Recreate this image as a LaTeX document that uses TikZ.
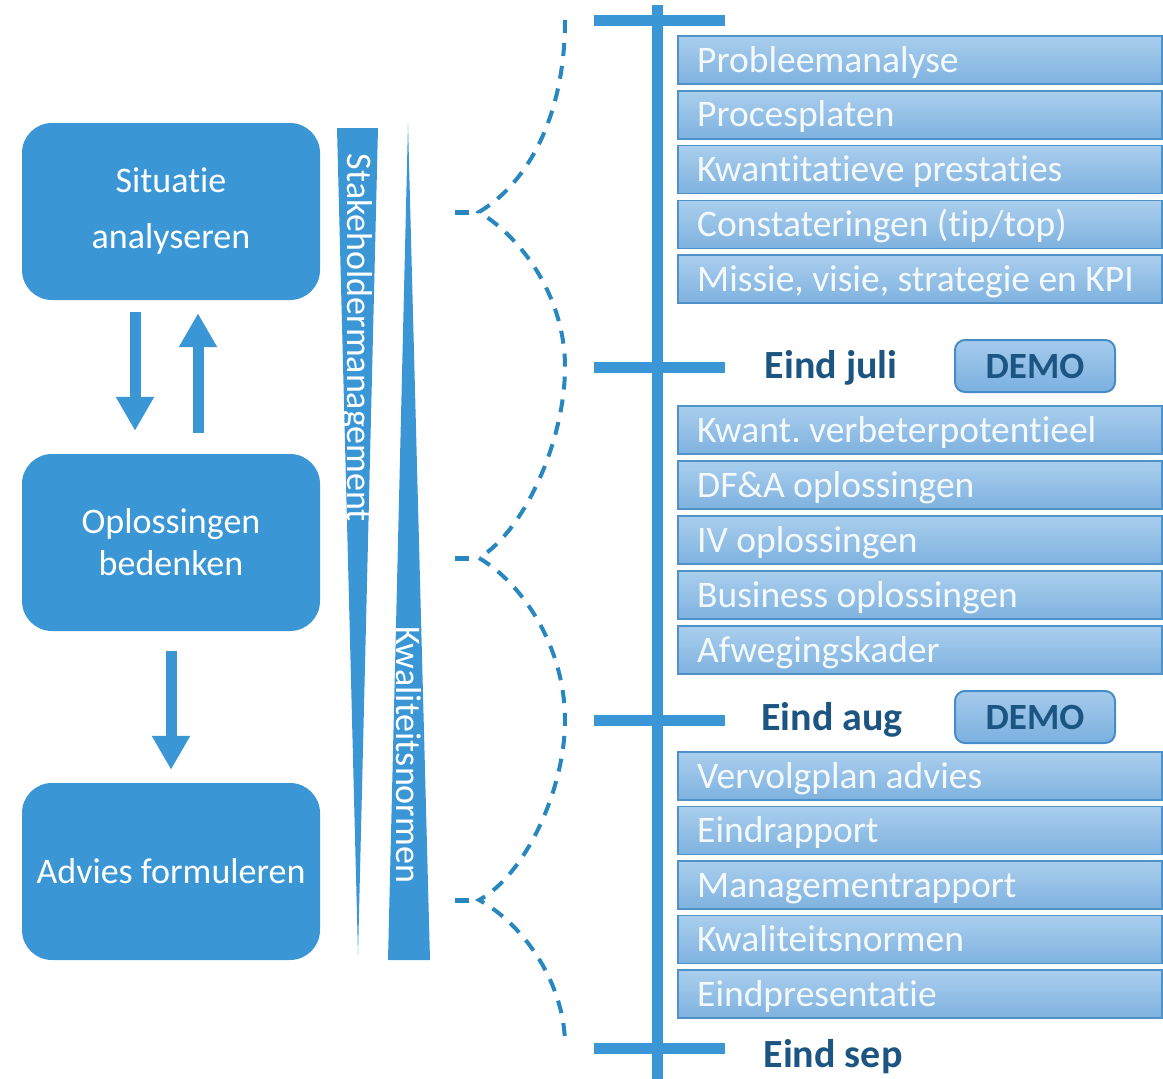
\documentclass[tikz,border=0pt]{standalone}
\usepackage{fontspec}
\setmainfont{Carlito}[Ligatures=NoCommon]
\usetikzlibrary{arrows.meta}

\definecolor{azul}{RGB}{58,150,212}
\definecolor{azulosc}{RGB}{40,135,190}
\definecolor{txtosc}{RGB}{28,84,130}
\definecolor{bartop}{RGB}{170,206,237}
\definecolor{barbot}{RGB}{126,178,223}
\definecolor{barborde}{RGB}{80,145,200}
\definecolor{bartxt}{RGB}{244,249,253}
\definecolor{demotop}{RGB}{165,203,236}
\definecolor{demobot}{RGB}{122,176,224}
\definecolor{demoborde}{RGB}{70,140,200}

\tikzset{
    caja/.style={rounded corners=30pt, fill=azul, text=white, minimum width=298pt,
        minimum height=177pt, align=center, font=\fontsize{36}{42}\selectfont},
    bloque/.style={azul, line width=11pt, -{Triangle[width=36pt,length=34pt]}},
    rotulo/.style={text=white, rotate=-90, font=\fontsize{36}{40}\selectfont},
    barra/.style={anchor=west, draw=barborde, line width=1.5pt, top color=bartop,
        bottom color=barbot, minimum width=484pt, minimum height=48pt},
    bartexto/.style={anchor=base west, inner sep=0pt, text=bartxt,
        font=\fontsize{37.5}{40}\selectfont},
    hito/.style={text=txtosc, font=\bfseries\fontsize{40}{44}\selectfont},
    demo/.style={rounded corners=10pt, draw=demoborde, line width=2pt, top color=demotop,
        bottom color=demobot, text=txtosc, minimum width=160pt, minimum height=52pt,
        font=\bfseries\fontsize{37}{40}\selectfont},
    eje/.style={azul, line width=11pt},
    llave/.style={azulosc, line width=4pt, dash pattern=on 13pt off 10pt},
}

\begin{document}
\frenchspacing
\begin{tikzpicture}[x=1pt, y=-1pt]
        \useasboundingbox (0,0) rectangle (1163,1079);

        % Definir las cajas del proceso
        \node[caja] (sit) at (171,211.5) {Situatie\\[14pt]analyseren};
        \node[caja] (opl) at (171,542.5) {Oplossingen\\bedenken};
        \node[caja] (adv) at (171,871.5) {Advies formuleren};

        % Flechas entre las cajas
        \draw[bloque, shorten <=12pt, shorten >=23pt] ([xshift=-36pt]sit.south) -- ([xshift=-36pt]opl.north);
        \draw[bloque, shorten <=21pt, shorten >=13pt] ([xshift=27pt]opl.north) -- ([xshift=27pt]sit.south);
        \draw[bloque, shorten <=20pt, shorten >=13pt] (opl.south) -- (adv.north);

        % Cunas con texto
        \fill[azul] (337,128) -- (378,128) -- (358,955) -- cycle;
        \fill[azul] (408,124) -- (430,960) -- (388,960) -- cycle;
        \node[rotulo] (stake) at (357,338) {Stakeholdermanagement};
        \node[rotulo] (kwal) at (409,755) {Kwaliteitsnormen};

        % Llaves discontinuas
        \draw[llave] (565,20) .. controls (565,120) and (525,185) .. (479,212)
            .. controls (525,240) and (565,300) .. (565,367)
            .. controls (565,440) and (525,530) .. (479,558)
            .. controls (525,585) and (565,650) .. (565,720)
            .. controls (565,790) and (525,875) .. (479,900)
            .. controls (525,925) and (565,985) .. (565,1045);
        \foreach \y in {212,558,900}
            \draw[azulosc, line width=5pt] (455,\y) -- (469,\y);

        % Eje del tiempo
        \draw[eje] (657,5) -- (657,1079);
        \foreach \y in {20,367,720,1048}
            \draw[eje] (594,\y) -- (725,\y);

        % Marcar los hitos
        \node[hito] (juli) at (831,368) {Eind juli};
        \node[hito] (aug) at (832,720) {Eind aug};
        \node[hito] (sep) at (833,1057) {Eind sep};
        \node[demo] (demo1) at (1035,366) {DEMO};
        \node[demo] (demo2) at (1035,717) {DEMO};

        % Barras de entregables
        \foreach \t [count=\i] in {Probleemanalyse, Procesplaten, Kwantitatieve prestaties,
                {Constateringen (tip/top)}, {Missie, visie, strategie en KPI}} {
            \node[barra] (a\i) at (677,{60+54.8*(\i-1)}) {};
            \node[bartexto] (ta\i) at ([xshift=20pt, yshift=-12pt]a\i.west) {\t};
        }
        \foreach \t [count=\i] in {Kwant. verbeterpotentieel, DF\&A oplossingen, IV oplossingen,
                Business oplossingen, Afwegingskader} {
            \node[barra] (b\i) at (677,{430+55*(\i-1)}) {};
            \node[bartexto] (tb\i) at ([xshift=20pt, yshift=-12pt]b\i.west) {\t};
        }
        \foreach \t [count=\i] in {Vervolgplan advies, Eindrapport, Managementrapport,
                Kwaliteitsnormen, Eindpresentatie} {
            \node[barra] (c\i) at (677,{776+54.5*(\i-1)}) {};
            \node[bartexto] (tc\i) at ([xshift=20pt, yshift=-12pt]c\i.west) {\t};
        }

    \end{tikzpicture}
\end{document}
